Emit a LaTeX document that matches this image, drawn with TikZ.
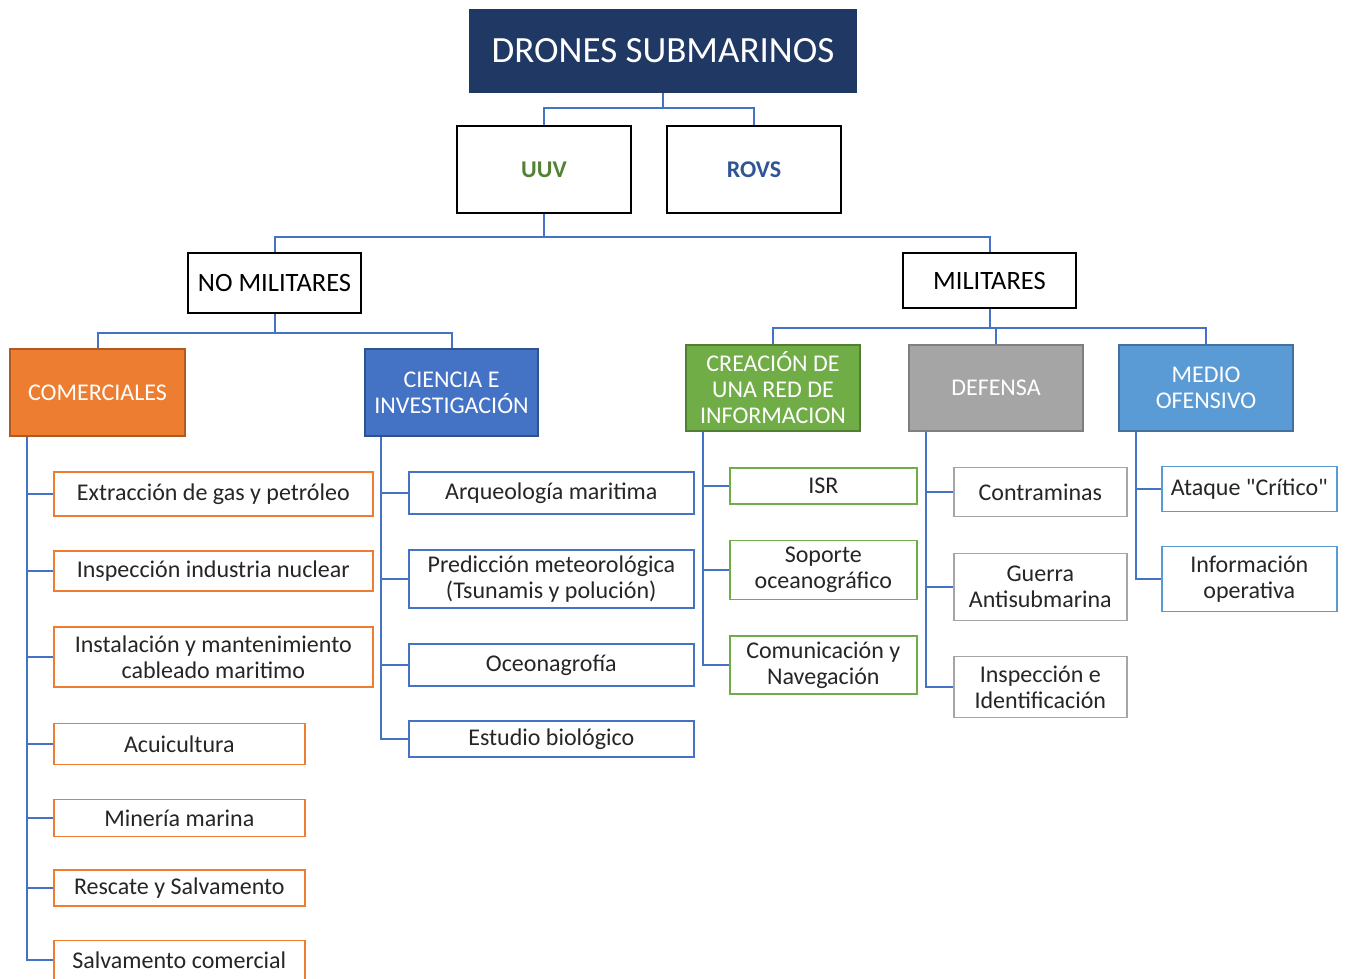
\documentclass[tikz,border=0pt]{standalone}
\usepackage{fontspec}
\setmainfont{Carlito}[Ligatures=TeXOff]
\usetikzlibrary{calc}
\definecolor{navy}{HTML}{203864}
\definecolor{linkblue}{HTML}{4472C4}
\definecolor{orangefill}{HTML}{ED7D31}
\definecolor{orangeline}{HTML}{AE5A21}
\definecolor{bluefill}{HTML}{4472C4}
\definecolor{blueline}{HTML}{2F528F}
\definecolor{greenfill}{HTML}{70AD47}
\definecolor{greenline}{HTML}{507E32}
\definecolor{grayfill}{HTML}{A5A5A5}
\definecolor{grayline}{HTML}{7F7F7F}
\definecolor{skyfill}{HTML}{5B9BD5}
\definecolor{skyline}{HTML}{41719C}
\definecolor{uuvgreen}{HTML}{548235}
\definecolor{rovsblue}{HTML}{2F5597}
\tikzset{
    link/.style={draw=linkblue,line width=2pt},
    toptitle/.style={fill=navy,text=white,minimum width=388pt,minimum height=84pt,font=\fontsize{37}{42}\selectfont},
    kind/.style={draw=black,line width=1.8pt,fill=white,minimum width=174pt,minimum height=87pt,font=\fontsize{24}{28}\selectfont\bfseries},
    branch/.style={draw=black,line width=1.8pt,fill=white,minimum width=173pt,font=\fontsize{26.5}{30}\selectfont},
    area/.style={line width=1.6pt,text=white,minimum width=174pt,minimum height=86pt,align=center,font=\fontsize{24}{26}\selectfont},
    leaf/.style={line width=1.6pt,fill=white,anchor=west,align=center,inner sep=1pt,text=black!85,font=\fontsize{24}{26}\selectfont}
}

\begin{document}
\begin{tikzpicture}[x=1pt,y=-1pt]
    \useasboundingbox (0,0) rectangle (1346,978);

    % top of the tree
    \node[toptitle] (drones) at (663,51) {DRONES SUBMARINOS};
    \node[kind,text=uuvgreen] (uuv) at (544,169.5) {UUV};
    \node[kind,text=rovsblue] (rovs) at (754,169.5) {ROVS};
    \node[branch,minimum height=60pt] (nomil) at (274.5,283) {NO MILITARES};
    \node[branch,minimum height=55pt] (mil) at (989.5,280.5) {MILITARES};

    \draw[link] (drones.south) -- ++(0,15) -| (uuv.north);
    \draw[link] (drones.south) -- ++(0,15) -| (rovs.north);
    \draw[link] (uuv.south) -- ++(0,23) -| (nomil.north);
    \draw[link] (uuv.south) -- ++(0,23) -| (mil.north);

    % areas
    \node[area,draw=orangeline,fill=orangefill,minimum width=175pt,minimum height=87pt] (com) at (97.5,392.5) {COMERCIALES};
    \node[area,draw=blueline,fill=bluefill,minimum width=173pt,minimum height=87pt] (cie) at (451.5,392.5) {CIENCIA E\\INVESTIGACIÓN};
    \node[area,draw=greenline,fill=greenfill] (cre) at (773,388) {CREACIÓN DE\\UNA RED DE\\INFORMACION};
    \node[area,draw=grayline,fill=grayfill] (def) at (996,388) {DEFENSA};
    \node[area,draw=skyline,fill=skyfill] (med) at (1206,388) {MEDIO\\OFENSIVO};

    \draw[link] (nomil.south) -- ++(0,19) -| (com.north);
    \draw[link] (nomil.south) -- ++(0,19) -| (cie.north);
    \foreach \n in {cre,def,med}
        \draw[link] (mil.south) -- ++(0,19) -| (\n.north);

    % comerciales
    \node[leaf,draw=orangefill,minimum width=319pt,minimum height=44pt] (c1) at (53,494) {Extracción de gas y petróleo};
    \node[leaf,draw=orangefill,minimum width=319pt,minimum height=40pt] (c2) at (53,571) {Inspección industria nuclear};
    \node[leaf,draw=orangefill,minimum width=319pt,minimum height=60pt] (c3) at (53,657) {Instalación y mantenimiento\\cableado maritimo};
    \node[leaf,draw=orangefill,minimum width=251pt,minimum height=41pt] (c4) at (53,744) {Acuicultura};
    \node[leaf,draw=orangefill,minimum width=251pt,minimum height=37pt] (c5) at (53,818) {Minería marina};
    \node[leaf,draw=orangefill,minimum width=251pt,minimum height=36pt] (c6) at (53,888) {Rescate y Salvamento};
    \node[leaf,draw=orangefill,minimum width=251pt,minimum height=39pt] (c7) at (53,960) {Salvamento comercial};
    \foreach \n in {c1,c2,c3,c4,c5,c6,c7}
        \draw[link] ([xshift=18pt]com.south west) |- (\n.west);

    % ciencia e investigacion
    \node[leaf,draw=bluefill,minimum width=285pt,minimum height=42pt] (s1) at (408,493) {Arqueología maritima};
    \node[leaf,draw=bluefill,minimum width=285pt,minimum height=58pt] (s2) at (408,579) {Predicción meteorológica\\(Tsunamis y polución)};
    \node[leaf,draw=bluefill,minimum width=285pt,minimum height=42pt] (s3) at (408,665) {Oceonagrofía};
    \node[leaf,draw=bluefill,minimum width=285pt,minimum height=36pt] (s4) at (408,739) {Estudio biológico};
    \foreach \n in {s1,s2,s3,s4}
        \draw[link] ([xshift=17pt]cie.south west) |- (\n.west);

    % red de informacion
    \node[leaf,draw=greenfill,minimum width=187pt,minimum height=36pt] (r1) at (729,486) {ISR};
    \node[leaf,draw=greenfill,minimum width=187pt,minimum height=59pt] (r2) at (729,570) {Soporte\\oceanográfico};
    \node[leaf,draw=greenfill,minimum width=187pt,minimum height=58pt] (r3) at (729,665) {Comunicación y\\Navegación};
    \foreach \n in {r1,r2,r3}
        \draw[link] ([xshift=18pt]cre.south west) |- (\n.west);

    % defensa
    \node[leaf,draw=grayfill,minimum width=173pt,minimum height=49pt] (d1) at (953,492) {Contraminas};
    \node[leaf,draw=grayfill,minimum width=173pt,minimum height=67pt] (d2) at (953,587) {Guerra\\Antisubmarina};
    \node[leaf,draw=grayfill,minimum width=173pt,minimum height=61pt] (d3) at (953,687) {Inspección e\\Identificación};
    \foreach \n in {d1,d2,d3}
        \draw[link] ([xshift=18pt]def.south west) |- (\n.west);

    % medio ofensivo
    \node[leaf,draw=skyfill,minimum width=175pt,minimum height=45pt] (m1) at (1161,489) {Ataque "Crítico"};
    \node[leaf,draw=skyfill,minimum width=175pt,minimum height=65pt] (m2) at (1161,579) {Información\\operativa};
    \foreach \n in {m1,m2}
        \draw[link] ([xshift=18pt]med.south west) |- (\n.west);
\end{tikzpicture}
\end{document}
